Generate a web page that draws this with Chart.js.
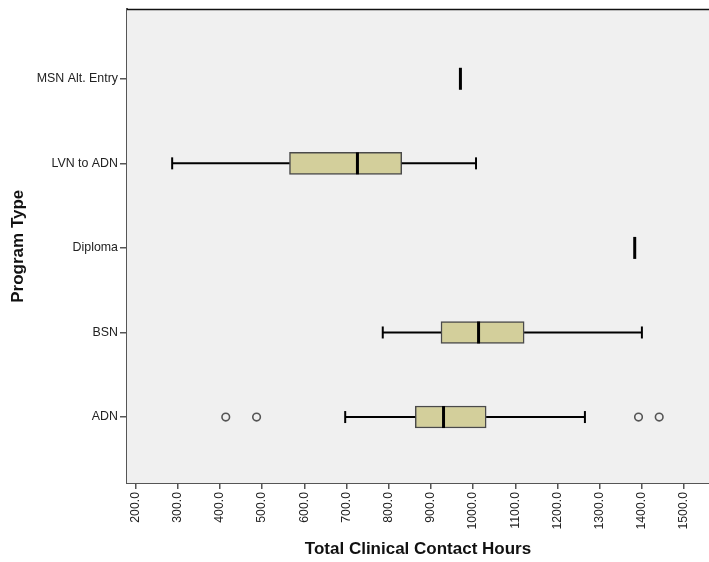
<!DOCTYPE html>
<html>
<head>
<meta charset="utf-8">
<title>Total Clinical Contact Hours by Program Type</title>
<script src="https://cdn.jsdelivr.net/npm/chart.js@4"></script>
<style>
  html, body { margin: 0; padding: 0; background: #fff; overflow: hidden; }
  #wrap { width: 709px; height: 562px; }
</style>
</head>
<body>
<div id="wrap"><canvas id="boxplot"></canvas></div>
<script>
// Program types, bottom to top (y position 1..5)
const programs = ['ADN', 'BSN', 'Diploma', 'LVN to ADN', 'MSN Alt. Entry'];

// Five-number summaries
const whiskerLow  = [697, 786, 1383, 287, 970];
const quartile1   = [863, 924, 1383, 565, 970];
const medians     = [930, 1013, 1383, 726, 970];
const quartile3   = [1031, 1121, 1383, 831, 970];
const whiskerHigh = [1265, 1400, 1383, 1007, 970];

// Outliers: [program index, value]
const outliers = [[0, 414], [0, 487], [0, 1392], [0, 1441]];

const xTicks = [200, 300, 400, 500, 600, 700, 800, 900, 1000, 1100, 1200, 1300, 1400, 1500];

const boxData = programs.map((p, i) => ({ y: i + 1, x: [quartile1[i], quartile3[i]] }))
    .filter((d) => d.x[0] !== d.x[1]);
const outlierData = outliers.map((o) => ({ x: o[1], y: o[0] + 1 }));

// Plot background and top border
const plotFrame = {
    id: 'plotFrame',
    beforeDatasetsDraw(chart) {
        const { ctx, chartArea: a } = chart;
        ctx.save();
        ctx.fillStyle = '#f0f0f0';
        ctx.fillRect(a.left, a.top, a.right - a.left, a.bottom - a.top);
        ctx.strokeStyle = '#111';
        ctx.lineWidth = 1.5;
        ctx.beginPath();
        ctx.moveTo(a.left, a.top);
        ctx.lineTo(a.right, a.top);
        ctx.stroke();
        ctx.restore();
    }
};

// Whiskers, caps and medians
const boxLines = {
    id: 'boxLines',
    afterDatasetsDraw(chart) {
        const { ctx, scales: { x, y } } = chart;
        ctx.save();
        ctx.strokeStyle = '#000';
        programs.forEach((p, i) => {
            const py = y.getPixelForValue(i + 1);
            const flat = quartile1[i] === quartile3[i];
            if (!flat) {
                ctx.lineWidth = 2;
                ctx.beginPath();
                ctx.moveTo(x.getPixelForValue(whiskerLow[i]), py);
                ctx.lineTo(x.getPixelForValue(quartile1[i]), py);
                ctx.moveTo(x.getPixelForValue(quartile3[i]), py);
                ctx.lineTo(x.getPixelForValue(whiskerHigh[i]), py);
                ctx.stroke();
                [whiskerLow[i], whiskerHigh[i]].forEach((v) => {
                    const px = x.getPixelForValue(v);
                    ctx.beginPath();
                    ctx.moveTo(px, py - 6);
                    ctx.lineTo(px, py + 6);
                    ctx.stroke();
                });
            }
            const mx = x.getPixelForValue(medians[i]);
            ctx.lineWidth = 3;
            ctx.beginPath();
            ctx.moveTo(mx, py - 11);
            ctx.lineTo(mx, py + 11);
            ctx.stroke();
        });
        ctx.restore();
    }
};

document.addEventListener('DOMContentLoaded', function() {
    Chart.defaults.font.family = '"Liberation Sans", Arial, sans-serif';
    Chart.defaults.color = '#222';

    new Chart(document.getElementById('boxplot'), {
        type: 'bar',
        data: {
            datasets: [
                {
                    type: 'bar',
                    label: 'IQR',
                    data: boxData,
                    backgroundColor: '#d3cf9b',
                    borderColor: '#4a4a4a',
                    borderWidth: 1.5,
                    borderSkipped: false,
                    barThickness: 22
                },
                {
                    type: 'scatter',
                    label: 'Outliers',
                    data: outlierData,
                    pointStyle: 'circle',
                    pointRadius: 3.8,
                    backgroundColor: 'rgba(0,0,0,0)',
                    borderColor: '#555',
                    borderWidth: 1.6
                }
            ]
        },
        options: {
            indexAxis: 'y',
            responsive: true,
            maintainAspectRatio: false,
            animation: false,
            layout: { autoPadding: false, padding: { top: 7, right: 0, left: 0, bottom: 0 } },
            plugins: {
                legend: { display: false },
                tooltip: { enabled: false }
            },
            scales: {
                x: {
                    type: 'linear',
                    position: 'bottom',
                    min: 180,
                    max: 1559,
                    afterBuildTicks: (s) => { s.ticks = xTicks.map((v) => ({ value: v })); },
                    afterFit: (s) => { s.height = 79; s.paddingLeft = 0; s.paddingRight = 0; },
                    grid: {
                        drawOnChartArea: false,
                        drawTicks: true,
                        tickLength: 6,
                        color: '#555',
                        lineWidth: 1.5
                    },
                    border: { color: '#555', width: 2 },
                    ticks: {
                        minRotation: 90,
                        maxRotation: 90,
                        autoSkip: false,
                        padding: 3,
                        font: { size: 12.3 },
                        callback: (v) => Number(v).toFixed(1)
                    },
                    title: {
                        display: true,
                        text: 'Total Clinical Contact Hours',
                        color: '#111',
                        font: { size: 17, weight: 'bold' },
                        padding: { top: 0, bottom: 2 }
                    }
                },
                y: {
                    type: 'linear',
                    position: 'left',
                    offset: false,
                    min: 0.22,
                    max: 5.82,
                    afterBuildTicks: (s) => { s.ticks = programs.map((p, i) => ({ value: i + 1 })); },
                    afterFit: (s) => { s.width = 127; },
                    grid: {
                        offset: false,
                        drawOnChartArea: false,
                        drawTicks: true,
                        tickLength: 7,
                        color: '#555',
                        lineWidth: 1.5
                    },
                    border: { color: '#555', width: 2 },
                    ticks: {
                        autoSkip: false,
                        padding: 2,
                        font: { size: 12.4 },
                        callback: (v) => programs[Math.round(v) - 1] || ''
                    },
                    title: {
                        display: true,
                        text: 'Program Type',
                        color: '#111',
                        font: { size: 17, weight: 'bold' },
                        padding: { top: 8, bottom: 0 }
                    }
                }
            }
        },
        plugins: [plotFrame, boxLines]
    });
});
</script>
</body>
</html>
